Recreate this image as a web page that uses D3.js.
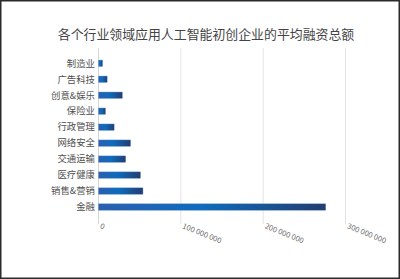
<!DOCTYPE html>
<html>
<head>
<meta charset="utf-8">
<script src="https://cdn.jsdelivr.net/npm/d3@7"></script>
<style>
  html, body { margin: 0; padding: 0; background: #fff; }
  svg { display: block; }
  text { font-family: "Noto Sans CJK SC", "Noto Sans", sans-serif; }
</style>
</head>
<body>
<div id="chart"></div>
<script>
// Data (average total funding)
const industries = ["制造业", "广告科技", "创意&娱乐", "保险业", "行政管理", "网络安全", "交通运输", "医疗健康", "销售&营销", "金融"];
const funding = [5000000, 10500000, 29000000, 8500000, 19000000, 39000000, 33000000, 51000000, 54000000, 276000000];
const tickValues = [0, 100000000, 200000000, 300000000];
const tickLabels = ["0", "100 000 000", "200 000 000", "300 000 000"];

const width = 400, height = 279;

const svg = d3.select("#chart")
  .append("svg")
  .attr("width", width)
  .attr("height", height);

// frame
svg.append("rect")
  .attr("x", 0.75).attr("y", 0.75)
  .attr("width", width - 1.5).attr("height", height - 1.5)
  .attr("fill", "#fff")
  .attr("stroke", "#2b2b2b")
  .attr("stroke-width", 1.5);

svg.append("text")
  .attr("x", 206)
  .attr("y", 38.5)
  .attr("text-anchor", "middle")
  .attr("font-size", 12.9)
  .attr("fill", "#444")
  .text("各个行业领域应用人工智能初创企业的平均融资总额");

const x = d3.scaleLinear().domain([0, 300000000]).range([98.5, 345.5]);
const y = d3.scaleBand().domain(industries).range([50.5, 219.8]).padding(0.6);

// gradient for bars
const defs = svg.append("defs");
const grad = defs.append("linearGradient")
  .attr("id", "barGrad")
  .attr("x1", "0%").attr("x2", "100%").attr("y1", "0%").attr("y2", "0%");
grad.append("stop").attr("offset", "0%").attr("stop-color", "#2d5eae");
grad.append("stop").attr("offset", "45%").attr("stop-color", "#0e6bbd");
grad.append("stop").attr("offset", "100%").attr("stop-color", "#243d6e");

// grid lines
svg.append("g")
  .selectAll("line")
  .data(tickValues.slice(1))
  .enter()
  .append("line")
  .attr("x1", (d) => x(d)).attr("x2", (d) => x(d))
  .attr("y1", 48).attr("y2", 224)
  .attr("stroke", "#e4e4e4")
  .attr("stroke-width", 1);

// axis line at zero
svg.append("line")
  .attr("x1", x(0)).attr("x2", x(0))
  .attr("y1", 48).attr("y2", 224)
  .attr("stroke", "#d6d6d6")
  .attr("stroke-width", 1);

// bars
svg.append("g")
  .selectAll("rect")
  .data(funding)
  .enter()
  .append("rect")
  .attr("x", x(0))
  .attr("y", (d, i) => y(industries[i]))
  .attr("width", (d) => x(d) - x(0))
  .attr("height", y.bandwidth())
  .attr("fill", "url(#barGrad)")
  .attr("stroke", "#5a8fd0")
  .attr("stroke-width", 0.4);

// category labels
svg.append("g")
  .selectAll("text")
  .data(industries)
  .enter()
  .append("text")
  .attr("x", 95)
  .attr("y", (d) => y(d) + y.bandwidth() / 2)
  .attr("dy", "0.35em")
  .attr("text-anchor", "end")
  .attr("font-size", 9.4)
  .attr("fill", "#505050")
  .text((d) => d);

// rotated tick labels
svg.append("g")
  .selectAll("text")
  .data(tickValues)
  .enter()
  .append("text")
  .attr("transform", (d) => `translate(${x(d) + 1},${228}) rotate(22)`)
  .attr("font-size", 7.6)
  .attr("fill", "#707070")
  .attr("font-family", "Open Sans, sans-serif")
  .text((d, i) => tickLabels[i]);
</script>
</body>
</html>
